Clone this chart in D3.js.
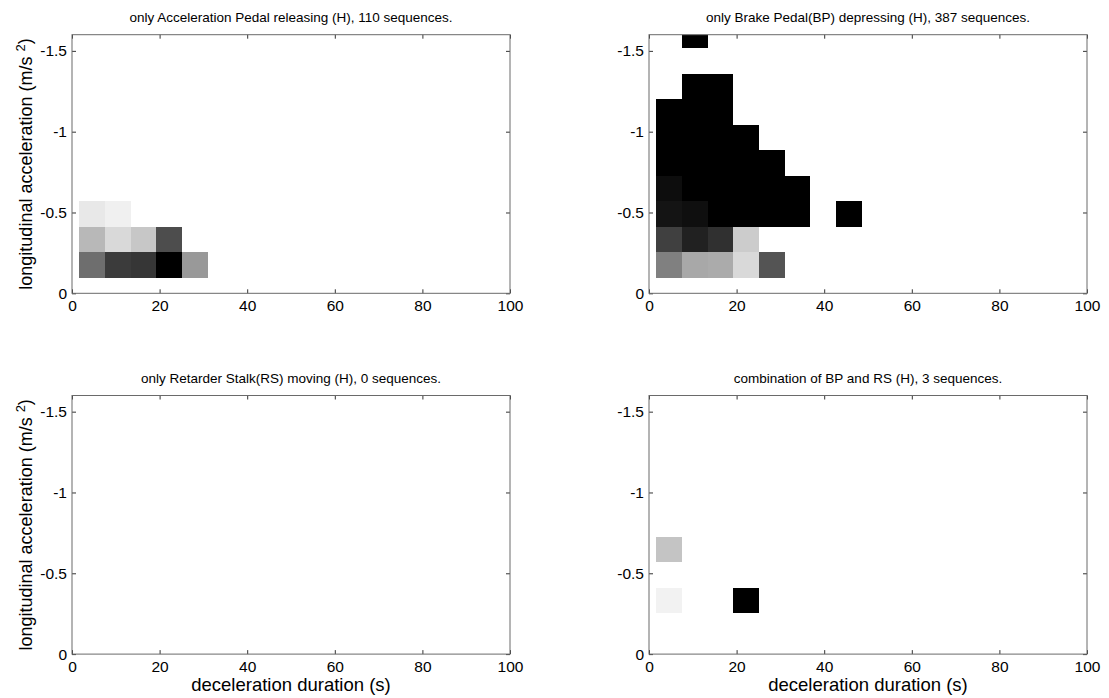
<!doctype html>
<html>
<head>
<meta charset="utf-8">
<script src="https://d3js.org/d3.v7.min.js"></script>
<style>
  body { margin: 0; background: #fff; }
  text { font-family: "Liberation Sans", Arial, sans-serif; fill: #000; }
</style>
</head>
<body>
<svg width="1109" height="698"></svg>
<script>

// histogram bin edges (s) and acceleration magnitude bin edges (m/s^2)
var durationEdges = [1.65, 7.52, 13.39, 19.26, 25.13, 31.0, 36.87, 42.74, 48.61];
var accelEdges = [0.095, 0.253, 0.411, 0.569, 0.727, 0.885, 1.043, 1.201, 1.359, 1.517, 1.675];

var xTicks = [0, 20, 40, 60, 80, 100];
var yTicks = [0, -0.5, -1, -1.5];

var titles = [
    "only Acceleration Pedal releasing (H), 110 sequences.",
    "only Brake Pedal(BP) depressing (H), 387 sequences.",
    "only Retarder Stalk(RS) moving (H), 0 sequences.",
    "combination of BP and RS (H), 3 sequences."
];

// cells: [duration bin, acceleration bin, relative density (0 = white, 1 = black)]
var apCells = [
    [0, 0, 0.57], [1, 0, 0.77], [2, 0, 0.79], [3, 0, 1.0], [4, 0, 0.40],
    [0, 1, 0.28], [1, 1, 0.15], [2, 1, 0.22], [3, 1, 0.70],
    [0, 2, 0.09], [1, 2, 0.06]
];
var bpCells = [
    [0, 0, 0.50], [1, 0, 0.34], [2, 0, 0.33], [3, 0, 0.15], [4, 0, 0.67],
    [0, 1, 0.75], [1, 1, 0.87], [2, 1, 0.81], [3, 1, 0.20],
    [0, 2, 0.92], [1, 2, 0.94], [2, 2, 1], [3, 2, 1], [4, 2, 1], [5, 2, 1], [7, 2, 1],
    [0, 3, 0.95], [1, 3, 1], [2, 3, 1], [3, 3, 1], [4, 3, 1], [5, 3, 1],
    [0, 4, 1], [1, 4, 1], [2, 4, 1], [3, 4, 1], [4, 4, 1],
    [0, 5, 1], [1, 5, 1], [2, 5, 1], [3, 5, 1],
    [0, 6, 1], [1, 6, 1], [2, 6, 1],
    [1, 7, 1], [2, 7, 1],
    [1, 9, 1]
];
var rsCells = [];
var bprsCells = [
    [0, 3, 0.23],
    [0, 1, 0.05], [3, 1, 1.0]
];

var svg = d3.select("svg");

var lefts = [72, 649],
    tops = [34.7, 395.5],
    width = 438,
    height = 258.6;

var panels = [
    {cells: apCells, col: 0, row: 0},
    {cells: bpCells, col: 1, row: 0},
    {cells: rsCells, col: 0, row: 1},
    {cells: bprsCells, col: 1, row: 1}
];

var xScale = d3.scaleLinear().domain([0, 100]).range([0, width]);
var yScale = d3.scaleLinear().domain([-1.6, 0]).range([0, height]);
var shade = d3.scaleLinear().domain([0, 1]).range(["#ffffff", "#000000"]);

panels.forEach(function(p, i) {
    var g = svg.append("g")
        .attr("transform", "translate(" + lefts[p.col] + "," + tops[p.row] + ")");

    g.append("clipPath").attr("id", "clip" + i)
        .append("rect").attr("width", width).attr("height", height);

    g.append("g").attr("clip-path", "url(#clip" + i + ")")
        .selectAll("rect")
        .data(p.cells)
        .enter().append("rect")
        .attr("x", function(d) { return xScale(durationEdges[d[0]]); })
        .attr("y", function(d) { return yScale(-accelEdges[d[1] + 1]); })
        .attr("width", function(d) { return xScale(durationEdges[d[0] + 1]) - xScale(durationEdges[d[0]]); })
        .attr("height", function(d) { return yScale(-accelEdges[d[1]]) - yScale(-accelEdges[d[1] + 1]); })
        .attr("fill", function(d) { return shade(d[2]); })
        .attr("shape-rendering", "crispEdges");

    // axes with inward ticks on all four sides (box on)
    g.append("g")
     .attr("transform", "translate(0," + height + ")")
     .call(d3.axisBottom(xScale).tickValues(xTicks).tickSize(-4).tickSizeOuter(0).tickPadding(7));
    g.append("g")
     .call(d3.axisTop(xScale).tickValues(xTicks).tickSize(-4).tickSizeOuter(0).tickFormat(""));
    g.append("g")
     .call(d3.axisLeft(yScale).tickValues(yTicks).tickSize(-4).tickSizeOuter(0).tickPadding(5)
        .tickFormat(function(d) { return String(d); }));
    g.append("g")
     .attr("transform", "translate(" + width + ",0)")
     .call(d3.axisRight(yScale).tickValues(yTicks).tickSize(-4).tickSizeOuter(0).tickFormat(""));

    g.selectAll(".domain").remove();
    g.selectAll(".tick line").attr("stroke", "#333");
    g.selectAll(".tick text").attr("font-size", "15.5px").attr("font-family", "Liberation Sans, Arial, sans-serif");

    g.append("rect")
     .attr("width", width).attr("height", height)
     .attr("fill", "none").attr("stroke", "#6a6a6a").attr("stroke-width", 1);

    g.append("text")
     .attr("x", width / 2)
     .attr("y", -13)
     .attr("text-anchor", "middle")
     .attr("font-size", "13.5px")
     .text(titles[i]);

    if (p.row === 1) {
        g.append("text")
         .attr("x", width / 2)
         .attr("y", 691 - tops[1])
         .attr("text-anchor", "middle")
         .attr("font-size", "18.5px")
         .text("deceleration duration (s)");
    }

    if (p.col === 0) {
        var yl = g.append("text")
         .attr("transform", "translate(" + (31.5 - lefts[0]) + "," + (height / 2) + ") rotate(-90)")
         .attr("text-anchor", "middle")
         .attr("font-size", "18px");
        yl.append("tspan").text("longitudinal acceleration (m/s ");
        yl.append("tspan").attr("font-size", "13px").attr("dy", "-0.5em").text("2");
        yl.append("tspan").attr("dy", "0.36em").text(")");
    }
});

</script>
</body>
</html>
